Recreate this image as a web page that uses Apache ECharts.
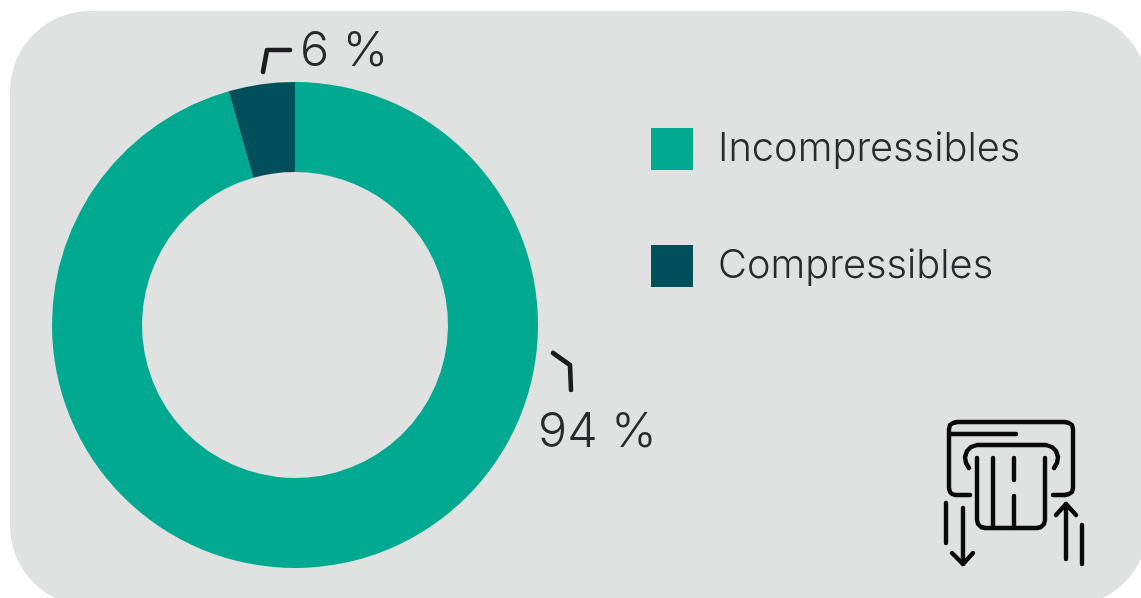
<!DOCTYPE html>
<html><head><meta charset="utf-8">
<style>html,body{margin:0;padding:0;background:#fff}#c{width:1141px;height:598px}</style>
<script src="https://cdn.jsdelivr.net/npm/echarts@6/dist/echarts.min.js"></script>
</head><body><div id="c"></div>
<script>
const categories = ['Incompressibles', 'Compressibles'];
const sliceValues = [95.6, 4.4];
const printedLabels = ['94 %', '6 %'];
const colors = ['#00a98f', '#00505c'];
const labelSpots = [{x: 538, y: 432}, {x: 300, y: 51}];

const line = (points, w, c) => ({type: 'polyline', shape: {points}, z: 5,
  style: {stroke: c || '#1d1d1f', lineWidth: w || 3.4, fill: null, lineCap: 'round', lineJoin: 'round'}});
const iconLines = [
  [[970,495],[955,495],[952,494],[950,492],[949,488],[949,429],[950,425],[953,423],[957,422],[1065,422],[1069,423],[1072,425],[1073,429],[1073,488],[1072,492],[1069,494],[1065,495],[1053,495]],
  [[951,434],[1016,434]],
  [[969,468],[966,463],[965,457],[967,451],[971,447],[977,445],[1046,445],[1052,447],[1056,451],[1058,457],[1057,463],[1054,468]],
  [[977,458],[977,520],[978,524],[981,527],[985,528],[1037,528],[1041,527],[1044,524],[1045,520],[1045,458]],
  [[993,458],[993,527]], [[1014,458],[1014,480]], [[1014,496],[1014,527]],
  [[946,503],[946,543]], [[963,508],[963,564]], [[952,553],[963,564],[973,553]],
  [[1066,504],[1066,559]], [[1056,515],[1066,504],[1076,515]], [[1082,525],[1082,564]]
];

const chart = echarts.init(document.getElementById('c'), null, {renderer: 'canvas'});
chart.setOption({
  animation: false,
  backgroundColor: '#ffffff',
  color: colors,
  textStyle: {fontFamily: 'Inter', fontWeight: 300},
  legend: {
    orient: 'vertical', left: 646, top: 123, itemWidth: 42, itemHeight: 42, itemGap: 75,
    icon: 'rect', selectedMode: false,
    textStyle: {fontFamily: 'Inter', fontWeight: 300, fontSize: 39.8, lineHeight: 38, color: '#2a2a2c', padding: [4, 0, 0, 20]},
    data: categories
  },
  graphic: {elements: [
    {type: 'rect', z: -1, shape: {x: 10, y: 11, width: 1138, height: 595, r: 80}, style: {fill: '#e0e1e1'}},
    line([[263, 72], [267, 50], [290, 50]], 4.6),
    line([[553, 353], [570, 365], [571, 390]], 4.6),
    ...iconLines.map(p => line(p, 4.4, '#0a0a0a'))
  ]},
  series: [{
    type: 'pie', center: [295, 325], radius: [153, 243], startAngle: 90, clockwise: true,
    silent: true,
    label: {show: true, position: 'outside', fontFamily: 'Inter', fontWeight: 300, fontSize: 48.5, color: '#2a2a2c',
      formatter: p => printedLabels[p.dataIndex]},
    labelLine: {show: false},
    labelLayout: p => ({x: labelSpots[p.dataIndex].x, y: labelSpots[p.dataIndex].y, align: 'left', verticalAlign: 'middle'}),
    data: categories.map((name, i) => ({name, value: sliceValues[i]}))
  }]
});
</script></body></html>
